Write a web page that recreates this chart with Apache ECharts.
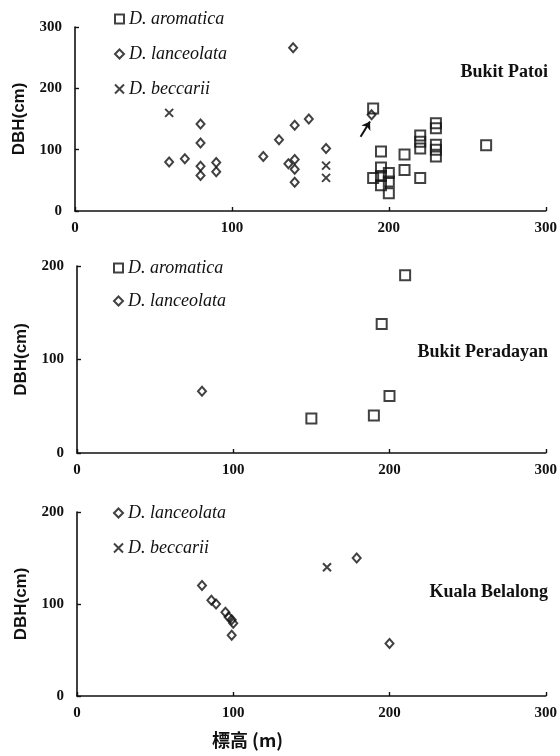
<!DOCTYPE html>
<html>
<head>
<meta charset="utf-8">
<script src="https://cdn.jsdelivr.net/npm/echarts@6/dist/echarts.min.js"></script>
<style>
  html, body { margin: 0; padding: 0; background: #fff; }
  #chart { width: 560px; height: 756px; }
</style>
</head>
<body>
<div id="chart"></div>
<script>
// Elevation (m) vs DBH (cm) of Dryobalanops trees at three sites
const xTicks = [0, 100, 200, 300];

// Bukit Patoi
const patoiAromatica = [
  [190, 167], [195, 97], [190, 54], [195, 71], [195, 57], [195, 42],
  [200, 62], [200, 48], [200, 29], [210, 92], [210, 67],
  [220, 123], [220, 113], [220, 102], [220, 54],
  [230, 143], [230, 135], [230, 108], [230, 100], [230, 89], [262, 107]
];
const patoiLanceolata = [
  [60, 80], [70, 85], [80, 142], [80, 111], [80, 73], [80, 58],
  [90, 79], [90, 64], [120, 89], [130, 116], [139, 266], [140, 140],
  [136, 77], [140, 84], [140, 68], [140, 47], [149, 150], [160, 102], [189, 157]
];
const patoiBeccarii = [[60, 160], [160, 74], [160, 54]];
const patoiArrow = [[182, 121], [188, 146]];

// Bukit Peradayan
const peradayanAromatica = [[150, 37], [190, 40], [200, 61], [195, 138], [210, 190]];
const peradayanLanceolata = [[80, 66]];

// Kuala Belalong
const belalongLanceolata = [
  [80, 120], [86, 104], [89, 100], [95, 91], [97, 86], [99, 83], [100, 79], [99, 66],
  [179, 150], [200, 57]
];
const belalongBeccarii = [[160, 140]];

const siteNames = ['Bukit Patoi', 'Bukit Peradayan', 'Kuala Belalong'];
const yMax = [300, 200, 200];
const xTitle = '標高 (m)';
const yTitle = 'DBH(cm)';

const serif = '"Liberation Serif", "DejaVu Serif", serif';
const ink = '#111';

const sym = {
  'D. aromatica': { symbol: 'rect', symbolSize: 10 },
  'D. lanceolata': { symbol: 'diamond', symbolSize: [8, 9] },
  'D. beccarii': { symbol: 'path://M0,0L10,10M10,0L0,10', symbolSize: 8 }
};

function scatter(name, data, idx, extra) {
  return Object.assign({
    type: 'scatter',
    name: name,
    data: data,
    xAxisIndex: idx,
    yAxisIndex: idx,
    symbol: sym[name].symbol,
    symbolSize: sym[name].symbolSize,
    itemStyle: { color: 'rgba(0,0,0,0)', borderColor: ink, borderWidth: 2 },
    emphasis: { disabled: true },
    z: 3
  }, extra || {});
}

const grids = [
  { left: 75, width: 472, top: 27, height: 184 },
  { left: 77, width: 471, top: 266, height: 187 },
  { left: 77, width: 471, top: 512, height: 184 }
];

const axisCommon = {
  axisLine: { show: true, lineStyle: { color: ink, width: 1.6 } },
  axisTick: { show: true, inside: true, length: 4, lineStyle: { color: ink, width: 1.4 } },
  splitLine: { show: false },
  axisLabel: { color: ink, fontFamily: serif, fontWeight: 'bold', fontSize: 15 }
};

const xAxes = grids.map((g, i) => Object.assign({}, axisCommon, {
  type: 'value', gridIndex: i, min: xTicks[0], max: xTicks[xTicks.length - 1], interval: 100,
  axisLabel: Object.assign({}, axisCommon.axisLabel, { margin: 10 })
}));

const yAxes = grids.map((g, i) => Object.assign({}, axisCommon, {
  type: 'value', gridIndex: i, min: 0, max: yMax[i], interval: 100,
  name: yTitle, nameLocation: 'middle', nameGap: 47,
  nameTextStyle: { color: ink, fontFamily: '"Liberation Sans", Arial, sans-serif', fontWeight: 'bold', fontSize: 17 },
  axisLabel: Object.assign({}, axisCommon.axisLabel, { margin: 13 })
}));

const legendText = { fontFamily: serif, fontStyle: 'italic', fontSize: 18, color: ink };
const legends = [
  { data: ['D. aromatica', 'D. lanceolata', 'D. beccarii'], left: 114, top: 10, itemGap: 17 },
  { data: ['D. aromatica', 'D. lanceolata'], left: 113, top: 259, itemGap: 15 },
  { data: ['D. lanceolata', 'D. beccarii'], left: 113, top: 504, itemGap: 17 }
].map(l => Object.assign({
  orient: 'vertical', itemWidth: 9, itemHeight: 9, selectedMode: false,
  textStyle: legendText, padding: 0
}, l));

const titleTops = [63, 343, 583];
const titles = siteNames.map((n, i) => ({
  text: n, right: 12, top: titleTops[i], padding: 0,
  textStyle: { fontFamily: serif, fontWeight: 'bold', fontSize: 18, color: ink }
}));

const option = {
  backgroundColor: '#fff',
  animation: false,
  title: titles,
  legend: legends,
  grid: grids,
  xAxis: xAxes,
  yAxis: yAxes,
  graphic: [{
    type: 'text', left: 212, top: 731,
    style: { text: xTitle, fontFamily: '"Noto Sans CJK JP", ' + serif, fontWeight: 'bold', fontSize: 18, fill: ink }
  }],
  series: [
    scatter('D. aromatica', patoiAromatica, 0, {
      markLine: {
        silent: true, animation: false, symbol: ['none', 'arrow'], symbolSize: [8, 8],
        label: { show: false },
        lineStyle: { color: ink, width: 2, type: 'solid' },
        data: [[{ coord: patoiArrow[0] }, { coord: patoiArrow[1] }]]
      }
    }),
    scatter('D. lanceolata', patoiLanceolata, 0),
    scatter('D. beccarii', patoiBeccarii, 0),
    scatter('D. aromatica', peradayanAromatica, 1),
    scatter('D. lanceolata', peradayanLanceolata, 1),
    scatter('D. lanceolata', belalongLanceolata, 2),
    scatter('D. beccarii', belalongBeccarii, 2)
  ]
};

const chart = echarts.init(document.getElementById('chart'), null, { renderer: 'canvas' });
chart.setOption(option);
</script>
</body>
</html>
